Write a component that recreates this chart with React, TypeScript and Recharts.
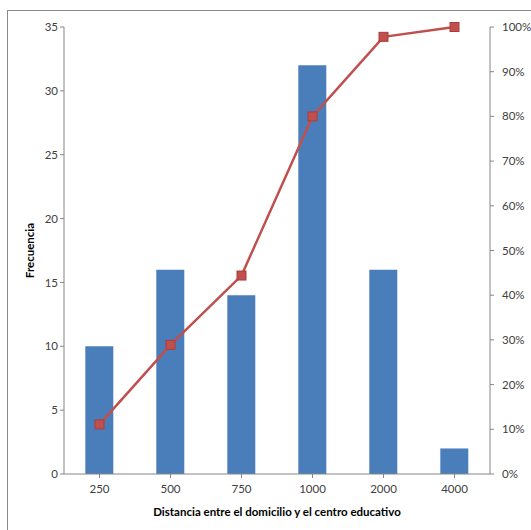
import React from "react";
import { ComposedChart, Bar, Line, XAxis, YAxis, Label } from "recharts";

const distances = ["250", "500", "750", "1000", "2000", "4000"];
const frecuencia = [10, 16, 14, 32, 16, 2];
const acumulado = [11.1, 28.9, 44.4, 80.0, 97.8, 100.0];
const leftTicks = [0, 5, 10, 15, 20, 25, 30, 35];
const rightTicks = [0, 10, 20, 30, 40, 50, 60, 70, 80, 90, 100];

const data = distances.map((d, i) => ({ name: d, freq: frecuencia[i], pct: acumulado[i] }));

const font = "Lato, 'Open Sans', sans-serif";
const tickStyle = { fill: "#404040", fontSize: 11.5, fontFamily: font };

function SquareDot(props: any) {
  const { cx, cy } = props;
  if (cx == null || cy == null) return null;
  return <rect x={cx - 4.5} y={cy - 4.5} width={9} height={9} fill="#C0504D" stroke="#B03A3A" strokeWidth={1} />;
}

export default function App() {
  return (
    <div style={{ position: "absolute", left: 0, top: 0, width: 531, height: 530, overflow: "hidden", background: "#fff" }}>
      <div style={{ position: "absolute", left: 7, top: 10, width: 700, height: 700, border: "1px solid #8a8a8a" }} />
      <div style={{ position: "absolute", left: 0, top: 0 }}>
        <ComposedChart width={531} height={530} data={data} margin={{ top: 27, right: 0, left: 24, bottom: 26 }} barCategoryGap="30%">
          <XAxis
            dataKey="name"
            tick={tickStyle}
            stroke="#868686"
            tickLine={{ stroke: "#868686" }}
            tickSize={4}
            tickMargin={7}
            height={30}
            interval={0}
          >
            <Label
              value="Distancia entre el domicilio y el centro educativo"
              position="insideBottom"
              offset={-12}
              style={{ fill: "#000", fontSize: 11.5, fontWeight: "bold", fontFamily: font }}
            />
          </XAxis>
          <YAxis
            yAxisId="left"
            domain={[0, 35]}
            ticks={leftTicks}
            tick={tickStyle}
            stroke="#868686"
            tickSize={4}
            width={40}
            interval={0}
          >
            <Label
              value="Frecuencia"
              angle={-90}
              position="insideLeft"
              offset={6}
              style={{ fill: "#000", fontSize: 11.5, fontWeight: "bold", fontFamily: font, textAnchor: "middle" }}
            />
          </YAxis>
          <YAxis
            yAxisId="right"
            orientation="right"
            domain={[0, 100]}
            ticks={rightTicks}
            tickFormatter={(v: number) => `${v}%`}
            tick={tickStyle}
            stroke="#868686"
            tickSize={4}
            tickMargin={8}
            width={41}
            interval={0}
          />
          <Bar yAxisId="left" dataKey="freq" fill="#4A7EBB" isAnimationActive={false} />
          <Line
            yAxisId="right"
            dataKey="pct"
            type="linear"
            stroke="#C0504D"
            strokeWidth={2.5}
            dot={<SquareDot />}
            activeDot={false}
            isAnimationActive={false}
          />
        </ComposedChart>
      </div>
    </div>
  );
}
